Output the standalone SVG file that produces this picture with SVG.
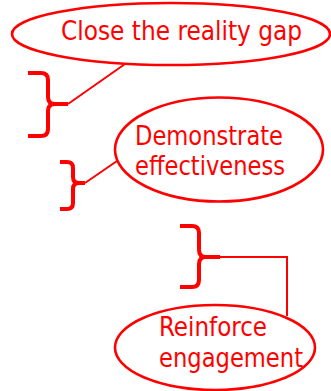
<svg xmlns="http://www.w3.org/2000/svg" width="331" height="391" viewBox="0 0 331 391">
  <style>
    .node ellipse { fill: #ffffff; stroke: #ff0000; stroke-width: 2.6; }
    .node text { fill: #ff0000; font-family: "DejaVu Sans Condensed", "DejaVu Sans", "Liberation Sans", sans-serif; font-stretch: condensed; font-size: 26px; }
    .brace { fill: none; stroke: #ff0000; stroke-width: 4; stroke-linejoin: round; }
    .link { fill: none; stroke: #ff0000; stroke-width: 2; }
  </style>
  <rect width="331" height="391" fill="#ffffff"/>

  <g id="connectors">
    <!-- braces -->
    <path class="brace" d="M28,73 H41 Q48,73 48,80 V97 Q48,104 55,104 H68 M55,104 Q48,104 48,111 V129 Q48,136 41,136 H28"/>
    <path class="brace" d="M60,162 H67 Q73,162 73,168 V177 Q73,183 79,183 H85 M79,183 Q73,183 73,189 V203 Q73,209 67,209 H60"/>
    <path class="brace" d="M180,226 H192 Q199,226 199,233 V250 Q199,257 206,257 H220 M206,257 Q199,257 199,264 V280 Q199,287 192,287 H180"/>
    <!-- leader lines -->
    <path class="link" d="M68,104 L125,64"/>
    <path class="link" d="M85,183 L117,161"/>
    <path class="link" d="M220,257 H287 V316"/>
  </g>

  <g id="close-gap" class="node">
    <ellipse cx="171" cy="34" rx="159" ry="31"/>
    <text x="61" y="40" textLength="241" lengthAdjust="spacingAndGlyphs">Close the reality gap</text>
  </g>

  <g id="demonstrate" class="node">
    <ellipse cx="219" cy="149.5" rx="104" ry="52"/>
    <text x="135" y="145" textLength="148" lengthAdjust="spacingAndGlyphs">Demonstrate</text>
    <text x="135" y="175" textLength="150" lengthAdjust="spacingAndGlyphs">effectiveness</text>
  </g>

  <g id="reinforce" class="node">
    <ellipse cx="215" cy="347.5" rx="100" ry="42.5"/>
    <text x="159" y="336" textLength="108" lengthAdjust="spacingAndGlyphs">Reinforce</text>
    <text x="159" y="367" textLength="144" lengthAdjust="spacingAndGlyphs">engagement</text>
  </g>
</svg>
